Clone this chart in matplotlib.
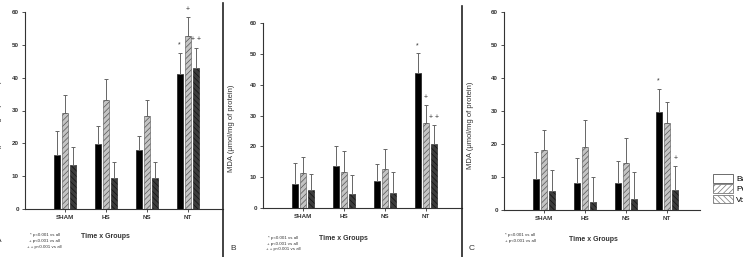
import numpy as np
import matplotlib
matplotlib.use('Agg')
import matplotlib.pyplot as plt
from matplotlib.patches import Patch
from matplotlib.lines import Line2D

plt.rcParams['font.family'] = ['Liberation Sans Narrow', 'Liberation Sans', 'DejaVu Sans']
plt.rcParams['hatch.linewidth'] = 0.5

groups = ['SHAM', 'HS', 'NS', 'NT']
legend_labels = ['Baseline', 'Post-shock', 'Volume']

# panel A
a_s1 = [16.5, 19.8, 17.9, 41.0]
a_s1_err = [7.3, 5.6, 4.3, 6.4]
a_s2 = [29.2, 33.2, 28.4, 52.6]
a_s2_err = [5.6, 6.4, 4.8, 5.8]
a_s3 = [13.5, 9.4, 9.3, 42.9]
a_s3_err = [5.5, 5.0, 5.1, 6.1]
a_marks = ['*', '+', '+ +']
a_notes = ['* p<0.001 vs all', '+ p<0.001 vs all', '+ + p<0.001 vs all']

# panel B
b_s1 = [7.8, 13.6, 8.6, 43.8]
b_s1_err = [6.7, 6.4, 5.6, 6.4]
b_s2 = [11.2, 11.8, 12.6, 27.6]
b_s2_err = [5.2, 6.8, 6.4, 5.8]
b_s3 = [5.8, 4.4, 5.0, 20.7]
b_s3_err = [5.2, 6.2, 6.7, 6.1]
b_marks = ['*', '+', '+ +']
b_notes = ['* p<0.001 vs all', '+ p<0.001 vs all', '+ + p<0.001 vs all']

# panel C
c_s1 = [9.3, 8.3, 8.3, 29.7]
c_s1_err = [8.2, 7.5, 6.7, 7.0]
c_s2 = [18.1, 19.2, 14.3, 26.5]
c_s2_err = [6.2, 8.0, 7.4, 6.3]
c_s3 = [5.7, 2.5, 3.4, 6.2]
c_s3_err = [6.3, 7.5, 8.1, 7.0]
c_marks = ['*', '', '+']
c_notes = ['* p<0.001 vs all', '+ p<0.001 vs all']

W, H = 743, 257
fig = plt.figure(figsize=(W / 100, H / 100), dpi=100)

styles = [dict(color='black', edgecolor='black'),
          dict(color='#c4c4c4', edgecolor='#555555', hatch='//////'),
          dict(color='#3c3c3c', edgecolor='#111111', hatch='\\\\\\\\\\\\')]


def panel(px_left, px_right, px_top, px_zero, series, errs, marks, notes, lab):
    ax = fig.add_axes([px_left / W, (H - px_zero) / H,
                       (px_right - px_left) / W, (px_zero - px_top) / H])
    x = np.arange(len(groups))
    width_px = px_right - px_left
    ax.set_xlim(-40 / 41, width_px / 41 - 40 / 41)
    ax.set_ylim(0, 60)
    for i, (vals, err, st) in enumerate(zip(series, errs, styles)):
        xs = x + (i - 1) * 0.205
        ax.bar(xs, vals, 0.15, linewidth=0.4, **st)
        ax.errorbar(xs, vals, yerr=[np.zeros(len(err)), err], fmt='none',
                    ecolor='#666666', elinewidth=0.7, capsize=1.5, capthick=0.7)
        if marks[i]:
            ax.text(xs[-1], vals[-1] + err[-1] + 2.5, marks[i], ha='center',
                    va='center', fontsize=5, color='#333333')
    ax.set_xticks(x)
    ax.set_xticklabels(groups, fontweight='bold')
    ax.set_yticks(range(0, 61, 10))
    for t in ax.get_yticklabels():
        t.set_fontweight('bold')
    for s in ['top', 'right']:
        ax.spines[s].set_visible(False)
    for s in ['left', 'bottom']:
        ax.spines[s].set_linewidth(0.8)
        ax.spines[s].set_color('#333333')
    ax.tick_params(length=2, width=0.6, labelsize=4.5, pad=2.5, colors='#333333')
    ax.set_ylabel('MDA (μmol/mg of protein)', fontsize=5.5, color='#333333')
    ax.yaxis.set_label_coords(lab[0], 0.43)
    ax.set_xlabel('Time x Groups', fontsize=5, color='#333333', fontweight='bold')
    ax.xaxis.set_label_coords(lab[1], lab[2])
    for k, t in enumerate(notes):
        ax.text(lab[3], lab[4] - k * lab[5], t, transform=ax.transAxes,
                ha='center', va='center', fontsize=3.2, color='#333333')
    return ax


panel(25, 223, 12, 209, [a_s1, a_s2, a_s3], [a_s1_err, a_s2_err, a_s3_err],
      a_marks, a_notes, (-0.116, 0.404, -0.122, 0.10, -0.132, 0.031))
panel(263, 462, 23, 208, [b_s1, b_s2, b_s3], [b_s1_err, b_s2_err, b_s3_err],
      b_marks, b_notes, (-0.141, 0.402, -0.146, 0.10, -0.162, 0.03))
axc = panel(504, 700, 12, 210, [c_s1, c_s2, c_s3], [c_s1_err, c_s2_err, c_s3_err],
            c_marks, c_notes, (-0.153, 0.454, -0.131, 0.082, -0.126, 0.031))

# dividers between panels
for xd, y0 in [(223, 3), (462, 6)]:
    fig.add_artist(Line2D([xd / W, xd / W], [0, 1 - y0 / H], color='#222222', lw=1.2))

fig.text(233 / W, 1 - 248 / H, 'B', fontsize=6, color='#333333', ha='center', va='center')
fig.text(472 / W, 1 - 249 / H, 'C', fontsize=6, color='#333333', ha='center', va='center')
fig.text(-4 / W, 1 - 240 / H, 'A', fontsize=6, color='#333333', ha='left', va='center')

handles = [Patch(facecolor='white', edgecolor='#555555', linewidth=0.6),
           Patch(facecolor='white', edgecolor='#777777', hatch='//////', linewidth=0.6),
           Patch(facecolor='white', edgecolor='#777777', hatch='\\\\\\\\\\\\', linewidth=0.6)]
fig.legend(handles, legend_labels, loc='upper left', bbox_to_anchor=(713 / W, 1 - 174 / H),
           frameon=False, fontsize=6, handlelength=2.4, handleheight=1.2,
           labelspacing=0.15, handletextpad=0.4, borderpad=0, borderaxespad=0)

fig.savefig('out.png', dpi=100)
